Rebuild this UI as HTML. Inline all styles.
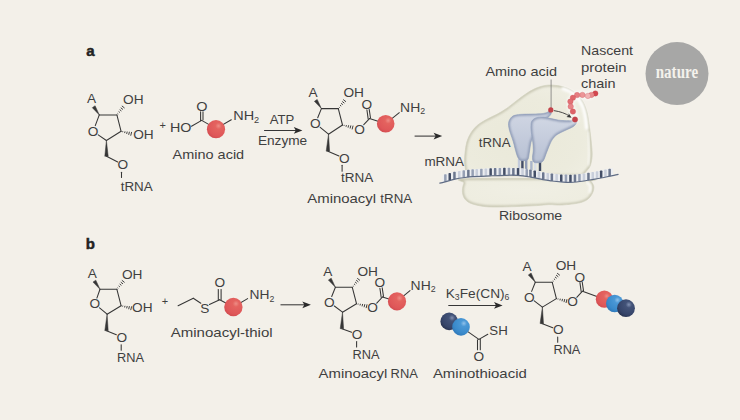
<!DOCTYPE html>
<html><head><meta charset="utf-8"><title>Figure</title>
<style>html,body{margin:0;padding:0;background:#f3f0e9;}svg{display:block}</style></head>
<body>
<svg width="740" height="420" viewBox="0 0 740 420" font-family="'Liberation Sans',Arial,sans-serif">
<defs>
<radialGradient id="redg" cx="0.64" cy="0.32" r="0.8"><stop offset="0" stop-color="#ee8d86"/><stop offset="0.22" stop-color="#e4635f"/><stop offset="0.7" stop-color="#df5759"/><stop offset="1" stop-color="#cc474c"/></radialGradient>
<radialGradient id="blueg" cx="0.66" cy="0.3" r="0.8"><stop offset="0" stop-color="#90c1ea"/><stop offset="0.22" stop-color="#4a98d6"/><stop offset="0.7" stop-color="#3a8acb"/><stop offset="1" stop-color="#2c74b5"/></radialGradient>
<radialGradient id="navyg" cx="0.66" cy="0.3" r="0.8"><stop offset="0" stop-color="#8291b2"/><stop offset="0.22" stop-color="#435378"/><stop offset="0.7" stop-color="#36456a"/><stop offset="1" stop-color="#252f4b"/></radialGradient>
<radialGradient id="ribg" cx="0.45" cy="0.6" r="0.65"><stop offset="0" stop-color="#eae9d9"/><stop offset="0.7" stop-color="#ecebdd"/><stop offset="1" stop-color="#efeee2"/></radialGradient>
<radialGradient id="ribg2" cx="0.5" cy="0.4" r="0.7"><stop offset="0" stop-color="#f0efe4"/><stop offset="0.75" stop-color="#eeede0"/><stop offset="1" stop-color="#edecde"/></radialGradient>
<linearGradient id="trg" x1="0" y1="0" x2="0" y2="1"><stop offset="0" stop-color="#d1d7e4"/><stop offset="1" stop-color="#b8c1d4"/></linearGradient>
<filter id="blur2" x="-10%" y="-10%" width="120%" height="120%"><feGaussianBlur stdDeviation="1.1"/></filter>
<filter id="blur3" x="-10%" y="-10%" width="120%" height="120%"><feGaussianBlur stdDeviation="0.8"/></filter>
<filter id="blur1" x="-20%" y="-20%" width="140%" height="140%"><feGaussianBlur stdDeviation="0.9"/></filter>
</defs>
<rect width="740" height="420" fill="#f3f0e9"/>
<text transform="translate(86.30,56.30) scale(1.08,1)" font-size="13.9" font-weight="bold" fill="#222222" stroke="#222222" stroke-width="0.45">a</text>
<line x1="99.30" y1="114.90" x2="116.90" y2="114.90" stroke="#363636" stroke-width="1.05" stroke-linecap="round"/>
<line x1="116.90" y1="114.90" x2="121.10" y2="131.30" stroke="#363636" stroke-width="1.05" stroke-linecap="round"/>
<line x1="121.10" y1="131.30" x2="106.40" y2="140.50" stroke="#363636" stroke-width="1.05" stroke-linecap="round"/>
<line x1="106.40" y1="140.50" x2="98.22" y2="134.90" stroke="#363636" stroke-width="1.05" stroke-linecap="round"/>
<line x1="95.28" y1="125.60" x2="99.30" y2="114.90" stroke="#363636" stroke-width="1.05" stroke-linecap="round"/>
<polygon points="99.30,114.90 95.10,105.74 92.30,107.66" fill="#363636" stroke="#363636" stroke-width="0.5" stroke-linejoin="round"/>
<text transform="translate(91.50,102.90) scale(1.02,1)" font-size="13.4" text-anchor="middle" fill="#3f3f3f">A</text>
<text transform="translate(93.10,135.90) scale(1.02,1)" font-size="13.4" text-anchor="middle" fill="#3f3f3f">O</text>
<line x1="118.25" y1="113.93" x2="117.54" y2="113.36" stroke="#363636" stroke-width="0.95" stroke-linecap="butt"/>
<line x1="119.83" y1="112.46" x2="118.61" y2="111.49" stroke="#363636" stroke-width="0.95" stroke-linecap="butt"/>
<line x1="121.41" y1="110.98" x2="119.68" y2="109.61" stroke="#363636" stroke-width="0.95" stroke-linecap="butt"/>
<line x1="122.99" y1="109.51" x2="120.76" y2="107.74" stroke="#363636" stroke-width="0.95" stroke-linecap="butt"/>
<line x1="124.57" y1="108.04" x2="121.83" y2="105.86" stroke="#363636" stroke-width="0.95" stroke-linecap="butt"/>
<text transform="translate(123.10,104.30) scale(1.02,1)" font-size="13.4" fill="#3f3f3f">OH</text>
<line x1="122.57" y1="132.19" x2="122.82" y2="131.20" stroke="#363636" stroke-width="0.95" stroke-linecap="butt"/>
<line x1="124.60" y1="133.07" x2="125.02" y2="131.39" stroke="#363636" stroke-width="0.95" stroke-linecap="butt"/>
<line x1="126.64" y1="133.95" x2="127.23" y2="131.57" stroke="#363636" stroke-width="0.95" stroke-linecap="butt"/>
<line x1="128.67" y1="134.83" x2="129.44" y2="131.75" stroke="#363636" stroke-width="0.95" stroke-linecap="butt"/>
<line x1="130.71" y1="135.71" x2="131.65" y2="131.93" stroke="#363636" stroke-width="0.95" stroke-linecap="butt"/>
<polygon points="106.40,140.50 104.80,156.31 108.20,156.29" fill="#363636" stroke="#363636" stroke-width="0.5" stroke-linejoin="round"/>
<line x1="106.50" y1="156.30" x2="117.73" y2="161.98" stroke="#363636" stroke-width="1.05" stroke-linecap="round"/>
<text transform="translate(122.90,169.10) scale(1.02,1)" font-size="13.4" text-anchor="middle" fill="#3f3f3f">O</text>
<line x1="121.50" y1="172.30" x2="121.50" y2="177.40" stroke="#363636" stroke-width="1.05" stroke-linecap="round"/>
<text transform="translate(120.70,190.90) scale(1.0,1)" font-size="13.4" fill="#3f3f3f">tRNA</text>
<text transform="translate(133.20,138.80) scale(1.02,1)" font-size="13.4" fill="#3f3f3f">OH</text>
<text transform="translate(162.80,129.00) scale(1.0,1)" font-size="11" text-anchor="middle" fill="#3f3f3f">+</text>
<text transform="translate(170.00,131.50) scale(1.07,1)" font-size="13.4" fill="#3f3f3f">HO</text>
<line x1="191.50" y1="126.30" x2="201.70" y2="120.40" stroke="#363636" stroke-width="1.05" stroke-linecap="round"/>
<line x1="200.60" y1="120.60" x2="200.60" y2="111.70" stroke="#363636" stroke-width="1.05" stroke-linecap="round"/>
<line x1="203.00" y1="119.80" x2="203.00" y2="111.70" stroke="#363636" stroke-width="1.05" stroke-linecap="round"/>
<text transform="translate(201.80,110.80) scale(1.08,1)" font-size="13.4" text-anchor="middle" fill="#3f3f3f">O</text>
<line x1="201.70" y1="120.40" x2="216.00" y2="128.60" stroke="#363636" stroke-width="1.05" stroke-linecap="round"/>
<line x1="216.00" y1="128.60" x2="231.30" y2="119.80" stroke="#363636" stroke-width="1.05" stroke-linecap="round"/>
<circle cx="216.00" cy="129.20" r="9.1" fill="url(#redg)"/>
<text transform="translate(233.20,120.00) scale(1.08,1)" font-size="13.4" fill="#3f3f3f">NH<tspan font-size="8.5" dy="2.6">2</tspan></text>
<text transform="translate(172.60,158.60) scale(1.08,1)" font-size="13.4" fill="#3f3f3f">Amino acid</text>
<text transform="translate(281.90,124.00) scale(0.98,1)" font-size="13.4" text-anchor="middle" fill="#3f3f3f">ATP</text>
<line x1="264.10" y1="130.40" x2="298.40" y2="130.40" stroke="#363636" stroke-width="1.05" stroke-linecap="butt"/>
<path d="M302.40,130.40 L293.80,127.00 L295.80,130.40 L293.80,133.80 Z" fill="#2a2a2a"/>
<text transform="translate(257.90,145.10) scale(1.02,1)" font-size="13.4" fill="#3f3f3f">Enzyme</text>
<line x1="321.40" y1="108.60" x2="338.30" y2="108.60" stroke="#363636" stroke-width="1.05" stroke-linecap="round"/>
<line x1="338.30" y1="108.60" x2="342.50" y2="125.00" stroke="#363636" stroke-width="1.05" stroke-linecap="round"/>
<line x1="342.50" y1="125.00" x2="328.50" y2="134.20" stroke="#363636" stroke-width="1.05" stroke-linecap="round"/>
<line x1="328.50" y1="134.20" x2="320.20" y2="127.42" stroke="#363636" stroke-width="1.05" stroke-linecap="round"/>
<line x1="317.72" y1="117.75" x2="321.40" y2="108.60" stroke="#363636" stroke-width="1.05" stroke-linecap="round"/>
<polygon points="321.40,108.60 317.20,99.44 314.40,101.36" fill="#363636" stroke="#363636" stroke-width="0.5" stroke-linejoin="round"/>
<text transform="translate(313.10,97.00) scale(1.02,1)" font-size="13.4" text-anchor="middle" fill="#3f3f3f">A</text>
<text transform="translate(315.40,128.00) scale(1.02,1)" font-size="13.4" text-anchor="middle" fill="#3f3f3f">O</text>
<line x1="339.65" y1="107.63" x2="338.94" y2="107.06" stroke="#363636" stroke-width="0.95" stroke-linecap="butt"/>
<line x1="341.23" y1="106.16" x2="340.01" y2="105.19" stroke="#363636" stroke-width="0.95" stroke-linecap="butt"/>
<line x1="342.81" y1="104.68" x2="341.08" y2="103.31" stroke="#363636" stroke-width="0.95" stroke-linecap="butt"/>
<line x1="344.39" y1="103.21" x2="342.16" y2="101.44" stroke="#363636" stroke-width="0.95" stroke-linecap="butt"/>
<line x1="345.97" y1="101.74" x2="343.23" y2="99.56" stroke="#363636" stroke-width="0.95" stroke-linecap="butt"/>
<text transform="translate(343.40,97.00) scale(1.02,1)" font-size="13.4" fill="#3f3f3f">OH</text>
<line x1="343.97" y1="125.89" x2="344.22" y2="124.90" stroke="#363636" stroke-width="0.95" stroke-linecap="butt"/>
<line x1="346.00" y1="126.77" x2="346.42" y2="125.09" stroke="#363636" stroke-width="0.95" stroke-linecap="butt"/>
<line x1="348.04" y1="127.65" x2="348.63" y2="125.27" stroke="#363636" stroke-width="0.95" stroke-linecap="butt"/>
<line x1="350.07" y1="128.53" x2="350.84" y2="125.45" stroke="#363636" stroke-width="0.95" stroke-linecap="butt"/>
<line x1="352.11" y1="129.41" x2="353.05" y2="125.63" stroke="#363636" stroke-width="0.95" stroke-linecap="butt"/>
<polygon points="328.50,134.20 326.20,151.14 329.60,151.26" fill="#363636" stroke="#363636" stroke-width="0.5" stroke-linejoin="round"/>
<line x1="327.90" y1="151.20" x2="338.98" y2="156.00" stroke="#363636" stroke-width="1.05" stroke-linecap="round"/>
<text transform="translate(344.30,162.80) scale(1.02,1)" font-size="13.4" text-anchor="middle" fill="#3f3f3f">O</text>
<line x1="342.10" y1="165.20" x2="342.10" y2="171.30" stroke="#363636" stroke-width="1.05" stroke-linecap="round"/>
<text transform="translate(340.90,182.20) scale(1.01,1)" font-size="13.4" fill="#3f3f3f">tRNA</text>
<text transform="translate(359.50,133.70) scale(1.02,1)" font-size="13.4" text-anchor="middle" fill="#3f3f3f">O</text>
<line x1="363.75" y1="124.69" x2="369.50" y2="118.60" stroke="#363636" stroke-width="1.05" stroke-linecap="round"/>
<text transform="translate(366.80,108.90) scale(1.02,1)" font-size="13.4" text-anchor="middle" fill="#3f3f3f">O</text>
<line x1="368.20" y1="119.10" x2="366.90" y2="109.80" stroke="#363636" stroke-width="1.05" stroke-linecap="round"/>
<line x1="370.50" y1="118.00" x2="369.20" y2="109.40" stroke="#363636" stroke-width="1.05" stroke-linecap="round"/>
<line x1="369.50" y1="118.60" x2="385.70" y2="123.70" stroke="#363636" stroke-width="1.05" stroke-linecap="round"/>
<line x1="385.70" y1="123.70" x2="399.30" y2="112.70" stroke="#363636" stroke-width="1.05" stroke-linecap="round"/>
<circle cx="385.70" cy="123.70" r="8.8" fill="url(#redg)"/>
<text transform="translate(400.10,111.70) scale(1.04,1)" font-size="13.4" fill="#3f3f3f">NH<tspan font-size="8.5" dy="2.6">2</tspan></text>
<text transform="translate(307.30,202.80) scale(1.113,1)" font-size="13.4" fill="#3f3f3f">Aminoacyl</text>
<text transform="translate(380.30,202.80) scale(0.995,1)" font-size="13.4" fill="#3f3f3f">tRNA</text>
<line x1="414.60" y1="136.10" x2="438.20" y2="136.10" stroke="#363636" stroke-width="1.05" stroke-linecap="butt"/>
<path d="M442.20,136.10 L433.60,132.70 L435.60,136.10 L433.60,139.50 Z" fill="#2a2a2a"/>
<clipPath id="cpb"><path d="M466.5,176.0 C466.2,173.8 464.9,166.8 464.6,163.0 C464.4,159.2 464.6,156.5 465.0,153.0 C465.4,149.5 465.8,145.4 466.8,142.0 C467.8,138.6 469.3,135.3 471.2,132.4 C473.1,129.5 475.3,127.0 478.0,124.8 C480.7,122.6 484.2,120.8 487.4,119.0 C490.6,117.2 493.8,116.0 497.0,114.3 C500.2,112.6 503.2,110.8 506.4,108.6 C509.6,106.4 512.5,103.8 516.0,101.2 C519.5,98.6 523.9,95.1 527.5,92.8 C531.1,90.5 534.2,88.9 537.5,87.6 C540.8,86.3 544.2,85.5 547.5,85.2 C550.8,84.9 554.2,85.1 557.5,85.6 C560.8,86.1 564.4,86.9 567.5,88.2 C570.6,89.5 573.5,91.4 576.0,93.6 C578.5,95.8 580.9,98.3 582.8,101.5 C584.7,104.7 586.1,108.6 587.2,113.0 C588.3,117.4 588.8,122.2 589.6,128.0 C590.4,133.8 591.4,142.6 591.8,147.5 C592.2,152.4 592.3,154.4 592.0,157.5 C591.7,160.6 591.0,164.0 590.0,166.3 C589.0,168.6 587.6,169.7 586.3,171.3 C585.0,172.9 582.7,175.2 582.0,176.0 Z"/></clipPath>
<path d="M466.5,176.0 C466.2,173.8 464.9,166.8 464.6,163.0 C464.4,159.2 464.6,156.5 465.0,153.0 C465.4,149.5 465.8,145.4 466.8,142.0 C467.8,138.6 469.3,135.3 471.2,132.4 C473.1,129.5 475.3,127.0 478.0,124.8 C480.7,122.6 484.2,120.8 487.4,119.0 C490.6,117.2 493.8,116.0 497.0,114.3 C500.2,112.6 503.2,110.8 506.4,108.6 C509.6,106.4 512.5,103.8 516.0,101.2 C519.5,98.6 523.9,95.1 527.5,92.8 C531.1,90.5 534.2,88.9 537.5,87.6 C540.8,86.3 544.2,85.5 547.5,85.2 C550.8,84.9 554.2,85.1 557.5,85.6 C560.8,86.1 564.4,86.9 567.5,88.2 C570.6,89.5 573.5,91.4 576.0,93.6 C578.5,95.8 580.9,98.3 582.8,101.5 C584.7,104.7 586.1,108.6 587.2,113.0 C588.3,117.4 588.8,122.2 589.6,128.0 C590.4,133.8 591.4,142.6 591.8,147.5 C592.2,152.4 592.3,154.4 592.0,157.5 C591.7,160.6 591.0,164.0 590.0,166.3 C589.0,168.6 587.6,169.7 586.3,171.3 C585.0,172.9 582.7,175.2 582.0,176.0 Z" fill="url(#ribg)"/>
<path d="M466.5,176.0 C466.2,173.8 464.9,166.8 464.6,163.0 C464.4,159.2 464.6,156.5 465.0,153.0 C465.4,149.5 465.8,145.4 466.8,142.0 C467.8,138.6 469.3,135.3 471.2,132.4 C473.1,129.5 475.3,127.0 478.0,124.8 C480.7,122.6 484.2,120.8 487.4,119.0 C490.6,117.2 493.8,116.0 497.0,114.3 C500.2,112.6 503.2,110.8 506.4,108.6 C509.6,106.4 512.5,103.8 516.0,101.2 C519.5,98.6 523.9,95.1 527.5,92.8 C531.1,90.5 534.2,88.9 537.5,87.6 C540.8,86.3 544.2,85.5 547.5,85.2 C550.8,84.9 554.2,85.1 557.5,85.6 C560.8,86.1 564.4,86.9 567.5,88.2 C570.6,89.5 573.5,91.4 576.0,93.6 C578.5,95.8 580.9,98.3 582.8,101.5 C584.7,104.7 586.1,108.6 587.2,113.0 C588.3,117.4 588.8,122.2 589.6,128.0 C590.4,133.8 591.4,142.6 591.8,147.5 C592.2,152.4 592.3,154.4 592.0,157.5 C591.7,160.6 591.0,164.0 590.0,166.3 C589.0,168.6 587.6,169.7 586.3,171.3 C585.0,172.9 582.7,175.2 582.0,176.0 Z" fill="none" stroke="#c6c5b0" stroke-width="2.8" clip-path="url(#cpb)" filter="url(#blur2)"/>
<path d="M466.5,176.0 C466.2,173.8 464.9,166.8 464.6,163.0 C464.4,159.2 464.6,156.5 465.0,153.0 C465.4,149.5 465.8,145.4 466.8,142.0 C467.8,138.6 469.3,135.3 471.2,132.4 C473.1,129.5 475.3,127.0 478.0,124.8 C480.7,122.6 484.2,120.8 487.4,119.0 C490.6,117.2 493.8,116.0 497.0,114.3 C500.2,112.6 503.2,110.8 506.4,108.6 C509.6,106.4 512.5,103.8 516.0,101.2 C519.5,98.6 523.9,95.1 527.5,92.8 C531.1,90.5 534.2,88.9 537.5,87.6 C540.8,86.3 544.2,85.5 547.5,85.2 C550.8,84.9 554.2,85.1 557.5,85.6 C560.8,86.1 564.4,86.9 567.5,88.2 C570.6,89.5 573.5,91.4 576.0,93.6 C578.5,95.8 580.9,98.3 582.8,101.5 C584.7,104.7 586.1,108.6 587.2,113.0 C588.3,117.4 588.8,122.2 589.6,128.0 C590.4,133.8 591.4,142.6 591.8,147.5 C592.2,152.4 592.3,154.4 592.0,157.5 C591.7,160.6 591.0,164.0 590.0,166.3 C589.0,168.6 587.6,169.7 586.3,171.3 C585.0,172.9 582.7,175.2 582.0,176.0 Z" fill="none" stroke="#d3d2c0" stroke-width="0.7"/>
<path d="M563,88.6 C572,91 579.5,98 583,107 C585.2,113 586.2,120 586.7,128" fill="none" stroke="#ffffff" stroke-opacity="0.95" stroke-width="3.3" stroke-linecap="round" filter="url(#blur1)"/>
<path d="M588.2,132 C589.6,145 590,156 588.6,165" fill="none" stroke="#ffffff" stroke-opacity="0.6" stroke-width="2.2" stroke-linecap="round" filter="url(#blur1)"/>
<clipPath id="cps"><path d="M468.0,178.6 C447.7,179.3 464.9,181.0 464.0,183.0 C463.1,185.0 462.4,188.0 462.4,190.5 C462.4,193.0 462.9,195.9 464.2,198.0 C465.5,200.1 467.2,201.7 470.0,203.0 C472.8,204.3 477.2,205.3 481.0,206.0 C484.8,206.7 487.4,206.9 493.0,207.0 C498.6,207.1 507.6,206.8 514.9,206.6 C522.1,206.4 530.8,205.9 536.5,205.6 C542.2,205.3 544.8,204.7 549.0,204.6 C553.2,204.5 556.9,205.3 562.0,205.0 C567.1,204.7 575.4,203.8 579.7,202.8 C584.0,201.8 585.9,200.6 588.0,199.0 C590.1,197.4 591.5,195.1 592.5,193.0 C593.5,190.9 594.0,188.5 593.8,186.6 C593.5,184.7 592.3,182.8 591.0,181.5 C589.7,180.2 606.5,179.5 586.0,179.0 C565.5,178.5 488.3,177.9 468.0,178.6 Z"/></clipPath>
<path d="M468.0,178.6 C447.7,179.3 464.9,181.0 464.0,183.0 C463.1,185.0 462.4,188.0 462.4,190.5 C462.4,193.0 462.9,195.9 464.2,198.0 C465.5,200.1 467.2,201.7 470.0,203.0 C472.8,204.3 477.2,205.3 481.0,206.0 C484.8,206.7 487.4,206.9 493.0,207.0 C498.6,207.1 507.6,206.8 514.9,206.6 C522.1,206.4 530.8,205.9 536.5,205.6 C542.2,205.3 544.8,204.7 549.0,204.6 C553.2,204.5 556.9,205.3 562.0,205.0 C567.1,204.7 575.4,203.8 579.7,202.8 C584.0,201.8 585.9,200.6 588.0,199.0 C590.1,197.4 591.5,195.1 592.5,193.0 C593.5,190.9 594.0,188.5 593.8,186.6 C593.5,184.7 592.3,182.8 591.0,181.5 C589.7,180.2 606.5,179.5 586.0,179.0 C565.5,178.5 488.3,177.9 468.0,178.6 Z" fill="url(#ribg2)"/>
<path d="M468.0,178.6 C447.7,179.3 464.9,181.0 464.0,183.0 C463.1,185.0 462.4,188.0 462.4,190.5 C462.4,193.0 462.9,195.9 464.2,198.0 C465.5,200.1 467.2,201.7 470.0,203.0 C472.8,204.3 477.2,205.3 481.0,206.0 C484.8,206.7 487.4,206.9 493.0,207.0 C498.6,207.1 507.6,206.8 514.9,206.6 C522.1,206.4 530.8,205.9 536.5,205.6 C542.2,205.3 544.8,204.7 549.0,204.6 C553.2,204.5 556.9,205.3 562.0,205.0 C567.1,204.7 575.4,203.8 579.7,202.8 C584.0,201.8 585.9,200.6 588.0,199.0 C590.1,197.4 591.5,195.1 592.5,193.0 C593.5,190.9 594.0,188.5 593.8,186.6 C593.5,184.7 592.3,182.8 591.0,181.5 C589.7,180.2 606.5,179.5 586.0,179.0 C565.5,178.5 488.3,177.9 468.0,178.6 Z" fill="none" stroke="#c6c5b0" stroke-width="2.8" clip-path="url(#cps)" filter="url(#blur2)"/>
<path d="M468.0,178.6 C447.7,179.3 464.9,181.0 464.0,183.0 C463.1,185.0 462.4,188.0 462.4,190.5 C462.4,193.0 462.9,195.9 464.2,198.0 C465.5,200.1 467.2,201.7 470.0,203.0 C472.8,204.3 477.2,205.3 481.0,206.0 C484.8,206.7 487.4,206.9 493.0,207.0 C498.6,207.1 507.6,206.8 514.9,206.6 C522.1,206.4 530.8,205.9 536.5,205.6 C542.2,205.3 544.8,204.7 549.0,204.6 C553.2,204.5 556.9,205.3 562.0,205.0 C567.1,204.7 575.4,203.8 579.7,202.8 C584.0,201.8 585.9,200.6 588.0,199.0 C590.1,197.4 591.5,195.1 592.5,193.0 C593.5,190.9 594.0,188.5 593.8,186.6 C593.5,184.7 592.3,182.8 591.0,181.5 C589.7,180.2 606.5,179.5 586.0,179.0 C565.5,178.5 488.3,177.9 468.0,178.6 Z" fill="none" stroke="#d3d2c0" stroke-width="0.7"/>
<path d="M587,182.5 C590.5,184 591.5,188 589.5,192" fill="none" stroke="#ffffff" stroke-opacity="0.8" stroke-width="2.4" stroke-linecap="round" filter="url(#blur1)"/>
<rect x="517.8" y="159" width="2.4" height="10" fill="#c3cbdb"/>
<rect x="521.2" y="159" width="2.4" height="10" fill="#414c66"/>
<rect x="525.0" y="159" width="2.4" height="10" fill="#8f9cb6"/>
<rect x="530.2" y="161" width="2.4" height="10" fill="#aab5ca"/>
<rect x="534.0" y="161" width="2.4" height="10" fill="#d9dee8"/>
<rect x="538.8" y="161" width="2.4" height="10" fill="#3d4861"/>
<clipPath id="ctl"><path d="M508.5,123.6 C508.6,122.2 509.0,120.9 509.6,119.7 C510.2,118.5 511.1,117.4 512.1,116.6 C513.1,115.8 514.2,115.5 515.5,115.1 C516.8,114.7 517.5,114.6 520.1,114.4 C522.7,114.2 527.6,114.2 531.0,114.1 C534.4,114.0 537.6,114.0 540.2,113.8 C542.8,113.6 544.8,113.2 546.4,112.7 C548.0,112.2 549.0,110.8 549.8,110.9 C550.6,111.0 551.5,112.3 551.3,113.3 C551.1,114.3 550.0,115.6 548.8,116.8 C547.6,118.0 545.8,118.6 544.0,120.5 C542.2,122.4 539.8,125.4 538.0,128.0 C536.2,130.6 534.7,133.6 533.5,136.0 C532.3,138.4 531.6,139.9 531.0,142.2 C530.4,144.5 530.1,147.6 529.7,149.9 C529.3,152.2 529.1,154.5 528.8,156.1 C528.5,157.7 528.4,158.6 527.9,159.3 C527.4,160.0 527.2,160.3 526.0,160.5 C524.8,160.7 522.1,160.8 520.9,160.5 C519.6,160.2 519.2,159.6 518.5,158.6 C517.8,157.6 517.2,156.1 516.7,154.5 C516.2,152.9 515.8,151.3 515.2,149.1 C514.6,146.9 514.0,144.0 513.2,141.4 C512.4,138.8 511.2,135.8 510.5,133.6 C509.8,131.4 509.3,129.9 509.0,128.2 C508.7,126.5 508.4,125.0 508.5,123.6 Z"/></clipPath>
<path d="M508.5,123.6 C508.6,122.2 509.0,120.9 509.6,119.7 C510.2,118.5 511.1,117.4 512.1,116.6 C513.1,115.8 514.2,115.5 515.5,115.1 C516.8,114.7 517.5,114.6 520.1,114.4 C522.7,114.2 527.6,114.2 531.0,114.1 C534.4,114.0 537.6,114.0 540.2,113.8 C542.8,113.6 544.8,113.2 546.4,112.7 C548.0,112.2 549.0,110.8 549.8,110.9 C550.6,111.0 551.5,112.3 551.3,113.3 C551.1,114.3 550.0,115.6 548.8,116.8 C547.6,118.0 545.8,118.6 544.0,120.5 C542.2,122.4 539.8,125.4 538.0,128.0 C536.2,130.6 534.7,133.6 533.5,136.0 C532.3,138.4 531.6,139.9 531.0,142.2 C530.4,144.5 530.1,147.6 529.7,149.9 C529.3,152.2 529.1,154.5 528.8,156.1 C528.5,157.7 528.4,158.6 527.9,159.3 C527.4,160.0 527.2,160.3 526.0,160.5 C524.8,160.7 522.1,160.8 520.9,160.5 C519.6,160.2 519.2,159.6 518.5,158.6 C517.8,157.6 517.2,156.1 516.7,154.5 C516.2,152.9 515.8,151.3 515.2,149.1 C514.6,146.9 514.0,144.0 513.2,141.4 C512.4,138.8 511.2,135.8 510.5,133.6 C509.8,131.4 509.3,129.9 509.0,128.2 C508.7,126.5 508.4,125.0 508.5,123.6 Z" fill="url(#trg)"/>
<path d="M508.5,123.6 C508.6,122.2 509.0,120.9 509.6,119.7 C510.2,118.5 511.1,117.4 512.1,116.6 C513.1,115.8 514.2,115.5 515.5,115.1 C516.8,114.7 517.5,114.6 520.1,114.4 C522.7,114.2 527.6,114.2 531.0,114.1 C534.4,114.0 537.6,114.0 540.2,113.8 C542.8,113.6 544.8,113.2 546.4,112.7 C548.0,112.2 549.0,110.8 549.8,110.9 C550.6,111.0 551.5,112.3 551.3,113.3 C551.1,114.3 550.0,115.6 548.8,116.8 C547.6,118.0 545.8,118.6 544.0,120.5 C542.2,122.4 539.8,125.4 538.0,128.0 C536.2,130.6 534.7,133.6 533.5,136.0 C532.3,138.4 531.6,139.9 531.0,142.2 C530.4,144.5 530.1,147.6 529.7,149.9 C529.3,152.2 529.1,154.5 528.8,156.1 C528.5,157.7 528.4,158.6 527.9,159.3 C527.4,160.0 527.2,160.3 526.0,160.5 C524.8,160.7 522.1,160.8 520.9,160.5 C519.6,160.2 519.2,159.6 518.5,158.6 C517.8,157.6 517.2,156.1 516.7,154.5 C516.2,152.9 515.8,151.3 515.2,149.1 C514.6,146.9 514.0,144.0 513.2,141.4 C512.4,138.8 511.2,135.8 510.5,133.6 C509.8,131.4 509.3,129.9 509.0,128.2 C508.7,126.5 508.4,125.0 508.5,123.6 Z" fill="none" stroke="#8d99b4" stroke-width="2.6" clip-path="url(#ctl)" filter="url(#blur3)"/>
<path d="M508.5,123.6 C508.6,122.2 509.0,120.9 509.6,119.7 C510.2,118.5 511.1,117.4 512.1,116.6 C513.1,115.8 514.2,115.5 515.5,115.1 C516.8,114.7 517.5,114.6 520.1,114.4 C522.7,114.2 527.6,114.2 531.0,114.1 C534.4,114.0 537.6,114.0 540.2,113.8 C542.8,113.6 544.8,113.2 546.4,112.7 C548.0,112.2 549.0,110.8 549.8,110.9 C550.6,111.0 551.5,112.3 551.3,113.3 C551.1,114.3 550.0,115.6 548.8,116.8 C547.6,118.0 545.8,118.6 544.0,120.5 C542.2,122.4 539.8,125.4 538.0,128.0 C536.2,130.6 534.7,133.6 533.5,136.0 C532.3,138.4 531.6,139.9 531.0,142.2 C530.4,144.5 530.1,147.6 529.7,149.9 C529.3,152.2 529.1,154.5 528.8,156.1 C528.5,157.7 528.4,158.6 527.9,159.3 C527.4,160.0 527.2,160.3 526.0,160.5 C524.8,160.7 522.1,160.8 520.9,160.5 C519.6,160.2 519.2,159.6 518.5,158.6 C517.8,157.6 517.2,156.1 516.7,154.5 C516.2,152.9 515.8,151.3 515.2,149.1 C514.6,146.9 514.0,144.0 513.2,141.4 C512.4,138.8 511.2,135.8 510.5,133.6 C509.8,131.4 509.3,129.9 509.0,128.2 C508.7,126.5 508.4,125.0 508.5,123.6 Z" fill="none" stroke="#8e9dba" stroke-width="0.6"/>
<clipPath id="ctr"><path d="M531.0,125.1 C531.1,123.8 531.1,122.4 531.7,121.3 C532.3,120.2 533.4,119.2 534.4,118.6 C535.4,117.9 536.4,117.7 537.9,117.4 C539.4,117.2 541.1,116.9 543.3,117.1 C545.5,117.3 548.5,118.1 551.1,118.6 C553.7,119.1 556.2,119.8 558.8,120.2 C561.4,120.6 564.4,120.6 566.6,120.7 C568.8,120.8 570.5,120.8 572.0,120.6 C573.5,120.4 574.6,119.0 575.4,119.3 C576.2,119.6 576.9,121.1 576.6,122.3 C576.3,123.5 575.4,125.0 573.5,126.4 C571.6,127.8 567.7,129.2 565.0,130.5 C562.3,131.8 559.4,133.0 557.3,134.4 C555.2,135.8 553.9,137.3 552.6,139.1 C551.3,140.9 550.5,142.9 549.5,145.2 C548.5,147.5 547.3,150.7 546.4,153.0 C545.5,155.3 544.8,157.7 544.1,159.2 C543.4,160.7 542.9,161.2 542.3,161.8 C541.6,162.4 541.5,162.5 540.2,162.6 C539.0,162.7 536.0,162.9 534.8,162.6 C533.6,162.3 533.4,161.8 533.0,161.0 C532.6,160.2 532.5,159.4 532.5,157.6 C532.5,155.8 533.2,152.5 533.3,149.9 C533.3,147.3 533.1,144.8 532.8,142.2 C532.5,139.6 531.9,136.6 531.6,134.4 C531.3,132.2 531.1,130.6 531.0,129.0 C530.9,127.5 530.9,126.4 531.0,125.1 Z"/></clipPath>
<path d="M531.0,125.1 C531.1,123.8 531.1,122.4 531.7,121.3 C532.3,120.2 533.4,119.2 534.4,118.6 C535.4,117.9 536.4,117.7 537.9,117.4 C539.4,117.2 541.1,116.9 543.3,117.1 C545.5,117.3 548.5,118.1 551.1,118.6 C553.7,119.1 556.2,119.8 558.8,120.2 C561.4,120.6 564.4,120.6 566.6,120.7 C568.8,120.8 570.5,120.8 572.0,120.6 C573.5,120.4 574.6,119.0 575.4,119.3 C576.2,119.6 576.9,121.1 576.6,122.3 C576.3,123.5 575.4,125.0 573.5,126.4 C571.6,127.8 567.7,129.2 565.0,130.5 C562.3,131.8 559.4,133.0 557.3,134.4 C555.2,135.8 553.9,137.3 552.6,139.1 C551.3,140.9 550.5,142.9 549.5,145.2 C548.5,147.5 547.3,150.7 546.4,153.0 C545.5,155.3 544.8,157.7 544.1,159.2 C543.4,160.7 542.9,161.2 542.3,161.8 C541.6,162.4 541.5,162.5 540.2,162.6 C539.0,162.7 536.0,162.9 534.8,162.6 C533.6,162.3 533.4,161.8 533.0,161.0 C532.6,160.2 532.5,159.4 532.5,157.6 C532.5,155.8 533.2,152.5 533.3,149.9 C533.3,147.3 533.1,144.8 532.8,142.2 C532.5,139.6 531.9,136.6 531.6,134.4 C531.3,132.2 531.1,130.6 531.0,129.0 C530.9,127.5 530.9,126.4 531.0,125.1 Z" fill="url(#trg)"/>
<path d="M531.0,125.1 C531.1,123.8 531.1,122.4 531.7,121.3 C532.3,120.2 533.4,119.2 534.4,118.6 C535.4,117.9 536.4,117.7 537.9,117.4 C539.4,117.2 541.1,116.9 543.3,117.1 C545.5,117.3 548.5,118.1 551.1,118.6 C553.7,119.1 556.2,119.8 558.8,120.2 C561.4,120.6 564.4,120.6 566.6,120.7 C568.8,120.8 570.5,120.8 572.0,120.6 C573.5,120.4 574.6,119.0 575.4,119.3 C576.2,119.6 576.9,121.1 576.6,122.3 C576.3,123.5 575.4,125.0 573.5,126.4 C571.6,127.8 567.7,129.2 565.0,130.5 C562.3,131.8 559.4,133.0 557.3,134.4 C555.2,135.8 553.9,137.3 552.6,139.1 C551.3,140.9 550.5,142.9 549.5,145.2 C548.5,147.5 547.3,150.7 546.4,153.0 C545.5,155.3 544.8,157.7 544.1,159.2 C543.4,160.7 542.9,161.2 542.3,161.8 C541.6,162.4 541.5,162.5 540.2,162.6 C539.0,162.7 536.0,162.9 534.8,162.6 C533.6,162.3 533.4,161.8 533.0,161.0 C532.6,160.2 532.5,159.4 532.5,157.6 C532.5,155.8 533.2,152.5 533.3,149.9 C533.3,147.3 533.1,144.8 532.8,142.2 C532.5,139.6 531.9,136.6 531.6,134.4 C531.3,132.2 531.1,130.6 531.0,129.0 C530.9,127.5 530.9,126.4 531.0,125.1 Z" fill="none" stroke="#8d99b4" stroke-width="2.6" clip-path="url(#ctr)" filter="url(#blur3)"/>
<path d="M531.0,125.1 C531.1,123.8 531.1,122.4 531.7,121.3 C532.3,120.2 533.4,119.2 534.4,118.6 C535.4,117.9 536.4,117.7 537.9,117.4 C539.4,117.2 541.1,116.9 543.3,117.1 C545.5,117.3 548.5,118.1 551.1,118.6 C553.7,119.1 556.2,119.8 558.8,120.2 C561.4,120.6 564.4,120.6 566.6,120.7 C568.8,120.8 570.5,120.8 572.0,120.6 C573.5,120.4 574.6,119.0 575.4,119.3 C576.2,119.6 576.9,121.1 576.6,122.3 C576.3,123.5 575.4,125.0 573.5,126.4 C571.6,127.8 567.7,129.2 565.0,130.5 C562.3,131.8 559.4,133.0 557.3,134.4 C555.2,135.8 553.9,137.3 552.6,139.1 C551.3,140.9 550.5,142.9 549.5,145.2 C548.5,147.5 547.3,150.7 546.4,153.0 C545.5,155.3 544.8,157.7 544.1,159.2 C543.4,160.7 542.9,161.2 542.3,161.8 C541.6,162.4 541.5,162.5 540.2,162.6 C539.0,162.7 536.0,162.9 534.8,162.6 C533.6,162.3 533.4,161.8 533.0,161.0 C532.6,160.2 532.5,159.4 532.5,157.6 C532.5,155.8 533.2,152.5 533.3,149.9 C533.3,147.3 533.1,144.8 532.8,142.2 C532.5,139.6 531.9,136.6 531.6,134.4 C531.3,132.2 531.1,130.6 531.0,129.0 C530.9,127.5 530.9,126.4 531.0,125.1 Z" fill="none" stroke="#8e9dba" stroke-width="0.6"/>
<path d="M442.5,175.0 L445.4,174.3 L449.8,173.1 L454.5,171.7 L459.3,170.9 L463.8,170.2 L468.4,169.7 L472.7,169.2 L476.8,169.0 L481.4,168.8 L485.9,168.5 L490.7,168.3 L495.2,168.1 L499.9,168.0 L504.4,167.8 L509.0,167.8 L513.4,167.9 L518.1,167.9 L522.6,168.5 L526.8,169.1 L530.5,169.6 L534.8,170.5 L539.0,171.4 L543.3,172.2 L547.8,172.9 L551.9,173.5 L556.7,174.0 L561.3,174.4 L566.0,174.6 L570.5,174.8 L575.0,174.4 L579.5,173.9 L584.0,173.5 L588.5,172.7 L592.8,171.9 L597.1,171.2 L601.2,170.5 L605.5,169.6 L609.7,168.7 L613.0,168.0 L613.0,175.5 L609.7,176.2 L605.5,177.1 L601.2,178.0 L597.1,178.7 L592.8,179.4 L588.5,180.2 L584.0,181.0 L579.5,181.4 L575.0,181.9 L570.5,182.3 L566.0,182.1 L561.3,181.9 L556.7,181.5 L551.9,181.0 L547.8,180.4 L543.3,179.7 L539.0,178.9 L534.8,178.0 L530.5,177.1 L526.8,176.6 L522.6,176.0 L518.1,175.4 L513.4,175.4 L509.0,175.3 L504.4,175.3 L499.9,175.5 L495.2,175.6 L490.7,175.8 L485.9,176.0 L481.4,176.3 L476.8,176.5 L472.7,176.7 L468.4,177.2 L463.8,177.7 L459.3,178.4 L454.5,179.2 L449.8,180.6 L445.4,181.8 L442.5,182.5 Z" fill="#eceef1"/>
<rect x="444.1" y="174.3" width="2.5" height="7.5" rx="0.7" fill="#96a0b4"/>
<rect x="448.5" y="173.1" width="2.5" height="7.5" rx="0.7" fill="#434e66"/>
<rect x="453.2" y="171.7" width="2.5" height="7.5" rx="0.7" fill="#6c778e"/>
<rect x="458.0" y="170.9" width="2.5" height="7.5" rx="0.7" fill="#c8ceda"/>
<rect x="462.5" y="170.2" width="2.5" height="7.5" rx="0.7" fill="#96a0b4"/>
<rect x="467.1" y="169.7" width="2.5" height="7.5" rx="0.7" fill="#6c778e"/>
<rect x="471.4" y="169.2" width="2.5" height="7.5" rx="0.7" fill="#96a0b4"/>
<rect x="475.5" y="169.0" width="2.5" height="7.5" rx="0.7" fill="#c8ceda"/>
<rect x="480.1" y="168.8" width="2.5" height="7.5" rx="0.7" fill="#96a0b4"/>
<rect x="484.6" y="168.5" width="2.5" height="7.5" rx="0.7" fill="#c8ceda"/>
<rect x="489.4" y="168.3" width="2.5" height="7.5" rx="0.7" fill="#434e66"/>
<rect x="493.9" y="168.1" width="2.5" height="7.5" rx="0.7" fill="#6c778e"/>
<rect x="498.6" y="168.0" width="2.5" height="7.5" rx="0.7" fill="#96a0b4"/>
<rect x="503.1" y="167.8" width="2.5" height="7.5" rx="0.7" fill="#434e66"/>
<rect x="507.7" y="167.8" width="2.5" height="7.5" rx="0.7" fill="#96a0b4"/>
<rect x="512.1" y="167.9" width="2.5" height="7.5" rx="0.7" fill="#6c778e"/>
<rect x="516.8" y="167.9" width="2.5" height="7.5" rx="0.7" fill="#434e66"/>
<rect x="521.3" y="168.5" width="2.5" height="7.5" rx="0.7" fill="#c8ceda"/>
<rect x="525.5" y="169.1" width="2.5" height="7.5" rx="0.7" fill="#96a0b4"/>
<rect x="529.2" y="169.6" width="2.5" height="7.5" rx="0.7" fill="#6c778e"/>
<rect x="533.5" y="170.5" width="2.5" height="7.5" rx="0.7" fill="#434e66"/>
<rect x="537.7" y="171.4" width="2.5" height="7.5" rx="0.7" fill="#c8ceda"/>
<rect x="542.0" y="172.2" width="2.5" height="7.5" rx="0.7" fill="#6c778e"/>
<rect x="546.5" y="172.9" width="2.5" height="7.5" rx="0.7" fill="#c8ceda"/>
<rect x="550.6" y="173.5" width="2.5" height="7.5" rx="0.7" fill="#6c778e"/>
<rect x="555.4" y="174.0" width="2.5" height="7.5" rx="0.7" fill="#c8ceda"/>
<rect x="560.0" y="174.4" width="2.5" height="7.5" rx="0.7" fill="#434e66"/>
<rect x="564.7" y="174.6" width="2.5" height="7.5" rx="0.7" fill="#96a0b4"/>
<rect x="569.2" y="174.8" width="2.5" height="7.5" rx="0.7" fill="#434e66"/>
<rect x="573.7" y="174.4" width="2.5" height="7.5" rx="0.7" fill="#6c778e"/>
<rect x="578.2" y="173.9" width="2.5" height="7.5" rx="0.7" fill="#96a0b4"/>
<rect x="582.7" y="173.5" width="2.5" height="7.5" rx="0.7" fill="#c8ceda"/>
<rect x="587.2" y="172.7" width="2.5" height="7.5" rx="0.7" fill="#6c778e"/>
<rect x="591.5" y="171.9" width="2.5" height="7.5" rx="0.7" fill="#c8ceda"/>
<rect x="595.8" y="171.2" width="2.5" height="7.5" rx="0.7" fill="#c8ceda"/>
<rect x="599.9" y="170.5" width="2.5" height="7.5" rx="0.7" fill="#434e66"/>
<rect x="604.2" y="169.6" width="2.5" height="7.5" rx="0.7" fill="#c8ceda"/>
<rect x="608.4" y="168.7" width="2.5" height="7.5" rx="0.7" fill="#6c778e"/>
<path d="M439.8,183.2 C440.7,183.0 442.5,182.6 445.0,181.9 C447.5,181.2 451.7,179.8 455.0,179.1 C458.3,178.4 462.0,177.9 465.0,177.5 C468.0,177.1 468.8,177.0 473.0,176.7 C477.2,176.4 484.7,176.0 490.0,175.8 C495.3,175.6 500.3,175.4 505.0,175.3 C509.7,175.2 513.8,175.1 518.0,175.4 C522.2,175.7 526.3,176.4 530.5,177.1 C534.7,177.8 539.4,179.0 543.0,179.7 C546.6,180.3 549.0,180.6 552.0,181.0 C555.0,181.4 557.9,181.7 561.0,181.9 C564.1,182.1 566.7,182.5 570.5,182.3 C574.3,182.2 578.9,181.7 584.0,181.0 C589.1,180.3 596.7,178.8 601.0,178.0 C605.3,177.2 607.1,176.7 610.0,176.1 C612.9,175.5 616.8,174.7 618.1,174.4" fill="none" stroke="#5f6c85" stroke-width="1.2" stroke-linecap="round"/>
<text transform="translate(485.40,76.00) scale(1.08,1)" font-size="13.4" fill="#3f3f3f">Amino acid</text>
<text transform="translate(581.00,54.90) scale(1.06,1)" font-size="13.4" fill="#3f3f3f">Nascent</text>
<text transform="translate(581.00,71.80) scale(1.115,1)" font-size="13.4" fill="#3f3f3f">protein</text>
<text transform="translate(581.00,87.60) scale(1.08,1)" font-size="13.4" fill="#3f3f3f">chain</text>
<text transform="translate(478.80,146.60) scale(0.99,1)" font-size="13.4" fill="#3f3f3f">tRNA</text>
<text transform="translate(424.40,166.20) scale(1.005,1)" font-size="13.4" fill="#3f3f3f">mRNA</text>
<text transform="translate(498.90,220.20) scale(1.05,1)" font-size="13.4" fill="#3f3f3f">Ribosome</text>
<line x1="551.10" y1="79.50" x2="551.10" y2="108.00" stroke="#6a6a6a" stroke-width="0.7" stroke-linecap="butt"/>
<path d="M575,119.5 L572.9,111.6 L570.7,106.6 L570.4,101.6 L572.9,97.7 L577.1,95.1 L582.4,94.9 L587.9,95.9 L591.4,94.9" fill="none" stroke="#ffffff" stroke-opacity="0.55" stroke-width="8" stroke-linecap="round" stroke-linejoin="round" filter="url(#blur1)"/>
<circle cx="595.3" cy="93.4" r="2.75" fill="#d2474f" stroke="#c44850" stroke-opacity="0.5" stroke-width="0.5"/>
<circle cx="591.4" cy="94.9" r="2.75" fill="#e7888b" stroke="#c44850" stroke-opacity="0.5" stroke-width="0.5"/>
<circle cx="587.9" cy="95.9" r="2.75" fill="#f1b3b4" stroke="#c44850" stroke-opacity="0.5" stroke-width="0.5"/>
<circle cx="582.4" cy="94.9" r="2.75" fill="#ec9597" stroke="#c44850" stroke-opacity="0.5" stroke-width="0.5"/>
<circle cx="577.1" cy="95.1" r="2.75" fill="#e67d81" stroke="#c44850" stroke-opacity="0.5" stroke-width="0.5"/>
<circle cx="572.9" cy="97.7" r="2.75" fill="#df676b" stroke="#c44850" stroke-opacity="0.5" stroke-width="0.5"/>
<circle cx="570.4" cy="101.6" r="2.75" fill="#e27074" stroke="#c44850" stroke-opacity="0.5" stroke-width="0.5"/>
<circle cx="570.7" cy="106.6" r="2.75" fill="#e88588" stroke="#c44850" stroke-opacity="0.5" stroke-width="0.5"/>
<circle cx="572.9" cy="111.6" r="2.75" fill="#dd6367" stroke="#c44850" stroke-opacity="0.5" stroke-width="0.5"/>
<circle cx="575.0" cy="119.5" r="2.75" fill="#c3434a" stroke="#c44850" stroke-opacity="0.5" stroke-width="0.5"/>
<circle cx="550.8" cy="109.9" r="2.6" fill="#c3434a"/>
<path d="M553.8,110.6 C560,111.5 566,113.5 569.5,116.2" fill="none" stroke="#363636" stroke-width="0.9"/>
<path d="M571.6,117.8 L566.4,116.9 L568.6,115.6 L568.7,113.2 Z" fill="#363636"/>
<circle cx="677" cy="73.6" r="31.5" fill="#a7a7a6"/>
<text transform="translate(676.90,77.70) scale(0.885,1.05)" font-size="17" text-anchor="middle" font-weight="bold" font-family="'Liberation Serif','DejaVu Serif',serif" fill="#f4f2ec">nature</text>
<text transform="translate(85.80,248.90) scale(1.08,1)" font-size="13.9" font-weight="bold" fill="#222222" stroke="#222222" stroke-width="0.45">b</text>
<line x1="100.00" y1="289.30" x2="116.90" y2="289.30" stroke="#363636" stroke-width="1.05" stroke-linecap="round"/>
<line x1="116.90" y1="289.30" x2="121.10" y2="305.70" stroke="#363636" stroke-width="1.05" stroke-linecap="round"/>
<line x1="121.10" y1="305.70" x2="107.10" y2="314.20" stroke="#363636" stroke-width="1.05" stroke-linecap="round"/>
<line x1="107.10" y1="314.20" x2="99.55" y2="307.88" stroke="#363636" stroke-width="1.05" stroke-linecap="round"/>
<line x1="96.88" y1="298.06" x2="100.00" y2="289.30" stroke="#363636" stroke-width="1.05" stroke-linecap="round"/>
<polygon points="100.00,289.30 95.80,280.14 93.00,282.06" fill="#363636" stroke="#363636" stroke-width="0.5" stroke-linejoin="round"/>
<text transform="translate(92.30,277.70) scale(1.02,1)" font-size="13.4" text-anchor="middle" fill="#3f3f3f">A</text>
<text transform="translate(94.80,308.40) scale(1.02,1)" font-size="13.4" text-anchor="middle" fill="#3f3f3f">O</text>
<line x1="118.25" y1="288.33" x2="117.54" y2="287.76" stroke="#363636" stroke-width="0.95" stroke-linecap="butt"/>
<line x1="119.83" y1="286.86" x2="118.61" y2="285.89" stroke="#363636" stroke-width="0.95" stroke-linecap="butt"/>
<line x1="121.41" y1="285.38" x2="119.68" y2="284.01" stroke="#363636" stroke-width="0.95" stroke-linecap="butt"/>
<line x1="122.99" y1="283.91" x2="120.76" y2="282.14" stroke="#363636" stroke-width="0.95" stroke-linecap="butt"/>
<line x1="124.57" y1="282.44" x2="121.83" y2="280.26" stroke="#363636" stroke-width="0.95" stroke-linecap="butt"/>
<text transform="translate(122.00,278.90) scale(1.02,1)" font-size="13.4" fill="#3f3f3f">OH</text>
<line x1="122.57" y1="306.59" x2="122.82" y2="305.60" stroke="#363636" stroke-width="0.95" stroke-linecap="butt"/>
<line x1="124.60" y1="307.47" x2="125.02" y2="305.79" stroke="#363636" stroke-width="0.95" stroke-linecap="butt"/>
<line x1="126.64" y1="308.35" x2="127.23" y2="305.97" stroke="#363636" stroke-width="0.95" stroke-linecap="butt"/>
<line x1="128.67" y1="309.23" x2="129.44" y2="306.15" stroke="#363636" stroke-width="0.95" stroke-linecap="butt"/>
<line x1="130.71" y1="310.11" x2="131.65" y2="306.33" stroke="#363636" stroke-width="0.95" stroke-linecap="butt"/>
<polygon points="107.10,314.20 104.80,330.64 108.20,330.76" fill="#363636" stroke="#363636" stroke-width="0.5" stroke-linejoin="round"/>
<line x1="106.50" y1="330.70" x2="116.34" y2="334.78" stroke="#363636" stroke-width="1.05" stroke-linecap="round"/>
<text transform="translate(121.70,341.50) scale(1.02,1)" font-size="13.4" text-anchor="middle" fill="#3f3f3f">O</text>
<line x1="121.20" y1="344.80" x2="121.20" y2="350.20" stroke="#363636" stroke-width="1.05" stroke-linecap="round"/>
<text transform="translate(117.10,361.60) scale(0.955,1)" font-size="13.4" fill="#3f3f3f">RNA</text>
<text transform="translate(132.10,311.70) scale(1.02,1)" font-size="13.4" fill="#3f3f3f">OH</text>
<text transform="translate(165.00,305.40) scale(1.0,1)" font-size="11" text-anchor="middle" fill="#3f3f3f">+</text>
<line x1="178.10" y1="305.80" x2="193.30" y2="298.30" stroke="#363636" stroke-width="1.05" stroke-linecap="round"/>
<line x1="193.30" y1="298.30" x2="200.80" y2="303.20" stroke="#363636" stroke-width="1.05" stroke-linecap="round"/>
<text transform="translate(204.70,312.60) scale(1.02,1)" font-size="13.4" text-anchor="middle" fill="#3f3f3f">S</text>
<line x1="209.40" y1="304.40" x2="219.70" y2="299.80" stroke="#363636" stroke-width="1.05" stroke-linecap="round"/>
<line x1="218.30" y1="300.00" x2="218.30" y2="289.40" stroke="#363636" stroke-width="1.05" stroke-linecap="round"/>
<line x1="221.10" y1="299.40" x2="221.10" y2="289.40" stroke="#363636" stroke-width="1.05" stroke-linecap="round"/>
<text transform="translate(219.70,286.60) scale(1.02,1)" font-size="13.4" text-anchor="middle" fill="#3f3f3f">O</text>
<line x1="219.70" y1="299.80" x2="233.40" y2="307.00" stroke="#363636" stroke-width="1.05" stroke-linecap="round"/>
<line x1="233.40" y1="307.00" x2="247.60" y2="298.60" stroke="#363636" stroke-width="1.05" stroke-linecap="round"/>
<circle cx="233.40" cy="307.00" r="9.2" fill="url(#redg)"/>
<text transform="translate(249.50,299.10) scale(1.03,1)" font-size="13.4" fill="#3f3f3f">NH<tspan font-size="8.5" dy="2.6">2</tspan></text>
<text transform="translate(170.70,336.70) scale(1.122,1)" font-size="13.4" fill="#3f3f3f">Aminoacyl-thiol</text>
<line x1="280.50" y1="304.80" x2="306.90" y2="304.80" stroke="#363636" stroke-width="1.05" stroke-linecap="butt"/>
<path d="M310.90,304.80 L302.30,301.40 L304.30,304.80 L302.30,308.20 Z" fill="#2a2a2a"/>
<line x1="335.40" y1="287.30" x2="352.30" y2="287.30" stroke="#363636" stroke-width="1.05" stroke-linecap="round"/>
<line x1="352.30" y1="287.30" x2="356.50" y2="303.70" stroke="#363636" stroke-width="1.05" stroke-linecap="round"/>
<line x1="356.50" y1="303.70" x2="342.50" y2="312.20" stroke="#363636" stroke-width="1.05" stroke-linecap="round"/>
<line x1="342.50" y1="312.20" x2="334.33" y2="305.96" stroke="#363636" stroke-width="1.05" stroke-linecap="round"/>
<line x1="331.72" y1="296.45" x2="335.40" y2="287.30" stroke="#363636" stroke-width="1.05" stroke-linecap="round"/>
<polygon points="335.40,287.30 331.20,278.14 328.40,280.06" fill="#363636" stroke="#363636" stroke-width="0.5" stroke-linejoin="round"/>
<text transform="translate(327.70,275.70) scale(1.02,1)" font-size="13.4" text-anchor="middle" fill="#3f3f3f">A</text>
<text transform="translate(329.40,306.70) scale(1.02,1)" font-size="13.4" text-anchor="middle" fill="#3f3f3f">O</text>
<line x1="353.65" y1="286.33" x2="352.94" y2="285.76" stroke="#363636" stroke-width="0.95" stroke-linecap="butt"/>
<line x1="355.23" y1="284.86" x2="354.01" y2="283.89" stroke="#363636" stroke-width="0.95" stroke-linecap="butt"/>
<line x1="356.81" y1="283.38" x2="355.08" y2="282.01" stroke="#363636" stroke-width="0.95" stroke-linecap="butt"/>
<line x1="358.39" y1="281.91" x2="356.16" y2="280.14" stroke="#363636" stroke-width="0.95" stroke-linecap="butt"/>
<line x1="359.97" y1="280.44" x2="357.23" y2="278.26" stroke="#363636" stroke-width="0.95" stroke-linecap="butt"/>
<text transform="translate(357.40,275.50) scale(1.02,1)" font-size="13.4" fill="#3f3f3f">OH</text>
<line x1="357.97" y1="304.59" x2="358.22" y2="303.60" stroke="#363636" stroke-width="0.95" stroke-linecap="butt"/>
<line x1="360.00" y1="305.47" x2="360.42" y2="303.79" stroke="#363636" stroke-width="0.95" stroke-linecap="butt"/>
<line x1="362.04" y1="306.35" x2="362.63" y2="303.97" stroke="#363636" stroke-width="0.95" stroke-linecap="butt"/>
<line x1="364.07" y1="307.23" x2="364.84" y2="304.15" stroke="#363636" stroke-width="0.95" stroke-linecap="butt"/>
<line x1="366.11" y1="308.11" x2="367.05" y2="304.33" stroke="#363636" stroke-width="0.95" stroke-linecap="butt"/>
<polygon points="342.50,312.20 340.20,328.64 343.60,328.76" fill="#363636" stroke="#363636" stroke-width="0.5" stroke-linejoin="round"/>
<line x1="341.90" y1="328.70" x2="351.66" y2="332.29" stroke="#363636" stroke-width="1.05" stroke-linecap="round"/>
<text transform="translate(357.10,338.80) scale(1.02,1)" font-size="13.4" text-anchor="middle" fill="#3f3f3f">O</text>
<line x1="356.60" y1="341.40" x2="356.60" y2="346.90" stroke="#363636" stroke-width="1.05" stroke-linecap="round"/>
<text transform="translate(352.50,359.40) scale(0.955,1)" font-size="13.4" fill="#3f3f3f">RNA</text>
<text transform="translate(372.50,312.10) scale(1.02,1)" font-size="13.4" text-anchor="middle" fill="#3f3f3f">O</text>
<line x1="376.75" y1="303.09" x2="382.50" y2="297.00" stroke="#363636" stroke-width="1.05" stroke-linecap="round"/>
<text transform="translate(379.80,287.30) scale(1.02,1)" font-size="13.4" text-anchor="middle" fill="#3f3f3f">O</text>
<line x1="381.20" y1="297.50" x2="379.90" y2="288.20" stroke="#363636" stroke-width="1.05" stroke-linecap="round"/>
<line x1="383.50" y1="296.40" x2="382.20" y2="287.80" stroke="#363636" stroke-width="1.05" stroke-linecap="round"/>
<line x1="382.50" y1="297.00" x2="397.00" y2="301.40" stroke="#363636" stroke-width="1.05" stroke-linecap="round"/>
<line x1="397.00" y1="301.40" x2="410.00" y2="290.60" stroke="#363636" stroke-width="1.05" stroke-linecap="round"/>
<circle cx="397.00" cy="301.40" r="9.1" fill="url(#redg)"/>
<text transform="translate(410.60,289.60) scale(1.04,1)" font-size="13.4" fill="#3f3f3f">NH<tspan font-size="8.5" dy="2.6">2</tspan></text>
<text transform="translate(318.60,378.00) scale(1.113,1)" font-size="13.4" fill="#3f3f3f">Aminoacyl</text>
<text transform="translate(390.60,378.00) scale(0.965,1)" font-size="13.4" fill="#3f3f3f">RNA</text>
<text transform="translate(445.70,297.60) scale(1.023,1)" font-size="13.4" fill="#3f3f3f">K<tspan font-size="8.5" dy="2.6">3</tspan><tspan dy="-2.6">Fe(CN)</tspan><tspan font-size="8.5" dy="2.6">6</tspan></text>
<line x1="448.30" y1="305.40" x2="498.60" y2="305.40" stroke="#363636" stroke-width="1.05" stroke-linecap="butt"/>
<path d="M502.60,305.40 L494.00,302.00 L496.00,305.40 L494.00,308.80 Z" fill="#2a2a2a"/>
<line x1="461.00" y1="326.90" x2="478.90" y2="339.40" stroke="#363636" stroke-width="1.05" stroke-linecap="round"/>
<circle cx="449.20" cy="321.40" r="8.8" fill="url(#navyg)"/>
<circle cx="461.00" cy="326.90" r="8.8" fill="url(#blueg)"/>
<line x1="477.50" y1="339.80" x2="477.50" y2="349.80" stroke="#363636" stroke-width="1.05" stroke-linecap="round"/>
<line x1="480.30" y1="339.00" x2="480.30" y2="349.80" stroke="#363636" stroke-width="1.05" stroke-linecap="round"/>
<text transform="translate(478.90,360.80) scale(1.02,1)" font-size="13.4" text-anchor="middle" fill="#3f3f3f">O</text>
<line x1="478.90" y1="339.40" x2="487.80" y2="334.20" stroke="#363636" stroke-width="1.05" stroke-linecap="round"/>
<text transform="translate(489.30,335.40) scale(0.99,1)" font-size="13.4" fill="#3f3f3f">SH</text>
<text transform="translate(432.90,378.30) scale(1.116,1)" font-size="13.4" fill="#3f3f3f">Aminothioacid</text>
<line x1="535.30" y1="282.20" x2="552.20" y2="282.20" stroke="#363636" stroke-width="1.05" stroke-linecap="round"/>
<line x1="552.20" y1="282.20" x2="556.40" y2="298.60" stroke="#363636" stroke-width="1.05" stroke-linecap="round"/>
<line x1="556.40" y1="298.60" x2="542.40" y2="307.10" stroke="#363636" stroke-width="1.05" stroke-linecap="round"/>
<line x1="542.40" y1="307.10" x2="534.23" y2="300.86" stroke="#363636" stroke-width="1.05" stroke-linecap="round"/>
<line x1="531.62" y1="291.35" x2="535.30" y2="282.20" stroke="#363636" stroke-width="1.05" stroke-linecap="round"/>
<polygon points="535.30,282.20 531.10,273.04 528.30,274.96" fill="#363636" stroke="#363636" stroke-width="0.5" stroke-linejoin="round"/>
<text transform="translate(527.10,270.60) scale(1.02,1)" font-size="13.4" text-anchor="middle" fill="#3f3f3f">A</text>
<text transform="translate(529.30,301.60) scale(1.02,1)" font-size="13.4" text-anchor="middle" fill="#3f3f3f">O</text>
<line x1="553.55" y1="281.23" x2="552.84" y2="280.66" stroke="#363636" stroke-width="0.95" stroke-linecap="butt"/>
<line x1="555.13" y1="279.76" x2="553.91" y2="278.79" stroke="#363636" stroke-width="0.95" stroke-linecap="butt"/>
<line x1="556.71" y1="278.28" x2="554.98" y2="276.91" stroke="#363636" stroke-width="0.95" stroke-linecap="butt"/>
<line x1="558.29" y1="276.81" x2="556.06" y2="275.04" stroke="#363636" stroke-width="0.95" stroke-linecap="butt"/>
<line x1="559.87" y1="275.34" x2="557.13" y2="273.16" stroke="#363636" stroke-width="0.95" stroke-linecap="butt"/>
<text transform="translate(555.70,270.20) scale(1.02,1)" font-size="13.4" fill="#3f3f3f">OH</text>
<line x1="557.87" y1="299.49" x2="558.12" y2="298.50" stroke="#363636" stroke-width="0.95" stroke-linecap="butt"/>
<line x1="559.90" y1="300.37" x2="560.32" y2="298.69" stroke="#363636" stroke-width="0.95" stroke-linecap="butt"/>
<line x1="561.94" y1="301.25" x2="562.53" y2="298.87" stroke="#363636" stroke-width="0.95" stroke-linecap="butt"/>
<line x1="563.97" y1="302.13" x2="564.74" y2="299.05" stroke="#363636" stroke-width="0.95" stroke-linecap="butt"/>
<line x1="566.01" y1="303.01" x2="566.95" y2="299.23" stroke="#363636" stroke-width="0.95" stroke-linecap="butt"/>
<polygon points="542.40,307.10 540.10,323.54 543.50,323.66" fill="#363636" stroke="#363636" stroke-width="0.5" stroke-linejoin="round"/>
<line x1="541.80" y1="323.60" x2="552.79" y2="327.82" stroke="#363636" stroke-width="1.05" stroke-linecap="round"/>
<text transform="translate(558.20,334.40) scale(1.02,1)" font-size="13.4" text-anchor="middle" fill="#3f3f3f">O</text>
<line x1="557.70" y1="336.90" x2="557.70" y2="342.30" stroke="#363636" stroke-width="1.05" stroke-linecap="round"/>
<text transform="translate(553.40,353.50) scale(0.955,1)" font-size="13.4" fill="#3f3f3f">RNA</text>
<text transform="translate(572.50,306.30) scale(1.02,1)" font-size="13.4" text-anchor="middle" fill="#3f3f3f">O</text>
<line x1="576.75" y1="297.29" x2="582.50" y2="291.20" stroke="#363636" stroke-width="1.05" stroke-linecap="round"/>
<text transform="translate(579.80,281.50) scale(1.02,1)" font-size="13.4" text-anchor="middle" fill="#3f3f3f">O</text>
<line x1="581.20" y1="291.70" x2="579.90" y2="282.40" stroke="#363636" stroke-width="1.05" stroke-linecap="round"/>
<line x1="583.50" y1="290.60" x2="582.20" y2="282.00" stroke="#363636" stroke-width="1.05" stroke-linecap="round"/>
<line x1="582.50" y1="291.20" x2="604.40" y2="299.20" stroke="#363636" stroke-width="1.05" stroke-linecap="round"/>
<circle cx="604.40" cy="299.20" r="8.6" fill="url(#redg)"/>
<circle cx="614.70" cy="303.50" r="8.7" fill="url(#blueg)"/>
<circle cx="626.00" cy="308.20" r="8.9" fill="url(#navyg)"/>
</svg>
</body></html>
